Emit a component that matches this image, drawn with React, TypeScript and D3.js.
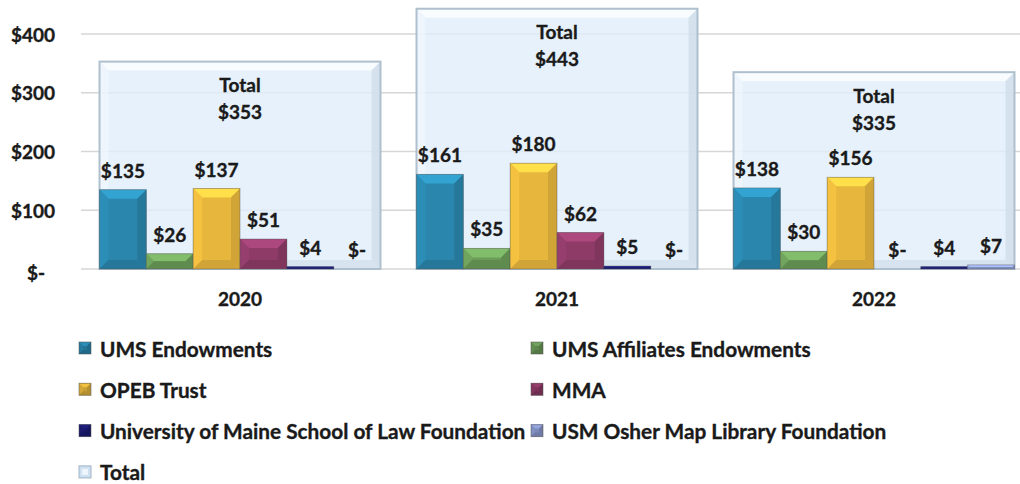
import React from "react";
import * as d3 from "d3";

const years = ["2020", "2021", "2022"];
const seriesNames = [
  "UMS Endowments",
  "UMS Affiliates Endowments",
  "OPEB Trust",
  "MMA",
  "University of Maine School of Law Foundation",
  "USM Osher Map Library Foundation",
];
const umsEndowments = [135, 161, 138];
const umsAffiliates = [26, 35, 30];
const opebTrust = [137, 180, 156];
const mma = [51, 62, 0];
const lawFoundation = [4, 5, 4];
const osherMap = [0, 0, 7];
const totals = [353, 443, 335];
const totalName = "Total";
const yTicks = [0, 100, 200, 300, 400];

const seriesValues = [umsEndowments, umsAffiliates, opebTrust, mma, lawFoundation, osherMap];
const seriesColors = ["#2a86ad", "#6b9b58", "#e7b73d", "#8e3b68", "#1d1d78", "#8e9ed4"];
const totalColor = "#e0edfa";

const W = 1020;
const H = 484;
const FONT = "Lato, 'Open Sans', 'DejaVu Sans', sans-serif";
const FS = 19;
const LFS = 20.8;
const TXT = "#1a1a1a";

const fmt = (v: number) => (v === 0 ? "$-" : `$${v}`);

function Bevel({ x, y, w, h, color, b, stroke }: any) {
  if (h <= 0 || w <= 0) return null;
  const bb = Math.max(0, Math.min(b, w / 2, h / 2));
  const c = d3.color(color)!;
  const top = c.brighter(0.55).formatHex();
  const left = c.brighter(0.15).formatHex();
  const right = c.darker(0.3).formatHex();
  const bottom = c.darker(0.3).formatHex();
  const x1 = x + w;
  const y1 = y + h;
  return (
    <g>
      <rect x={x} y={y} width={w} height={h} fill={color} />
      <polygon points={`${x},${y} ${x1},${y} ${x1 - bb},${y + bb} ${x + bb},${y + bb}`} fill={top} />
      <polygon points={`${x},${y} ${x + bb},${y + bb} ${x + bb},${y1 - bb} ${x},${y1}`} fill={left} />
      <polygon points={`${x1},${y} ${x1},${y1} ${x1 - bb},${y1 - bb} ${x1 - bb},${y + bb}`} fill={right} />
      <polygon points={`${x},${y1} ${x + bb},${y1 - bb} ${x1 - bb},${y1 - bb} ${x1},${y1}`} fill={bottom} />
      <rect x={x} y={y} width={w} height={h} fill="none" stroke={stroke ?? "rgba(80,80,80,0.4)"} strokeWidth={1} />
    </g>
  );
}

function TotalBox({ x, y, w, h }: any) {
  const b = 9;
  const x1 = x + w;
  const y1 = y + h;
  return (
    <g>
      <rect x={x} y={y} width={w} height={h} fill={totalColor} fillOpacity={0.8} />
      <polygon points={`${x},${y} ${x1},${y} ${x1 - b},${y + b} ${x + b},${y + b}`} fill="#ffffff" fillOpacity={0.75} />
      <polygon points={`${x},${y} ${x + b},${y + b} ${x + b},${y1 - b} ${x},${y1}`} fill="#f4f9fe" fillOpacity={0.6} />
      <polygon points={`${x1},${y} ${x1},${y1} ${x1 - b},${y1 - b} ${x1 - b},${y + b}`} fill="#cddbe8" fillOpacity={0.7} />
      <polygon points={`${x},${y1} ${x + b},${y1 - b} ${x1 - b},${y1 - b} ${x1},${y1}`} fill="#cddbe8" fillOpacity={0.6} />
      <rect x={x} y={y} width={w} height={h} fill="none" stroke="#aebfce" strokeWidth={2} />
    </g>
  );
}

export default function App() {
  const y = d3.scaleLinear().domain([0, 400]).range([269, 34]);
  const x = d3.scaleBand<string>().domain(years).range([81.5, 1032.5]).paddingInner(0.1136).paddingOuter(0.0568);
  const xs = d3.scaleBand<number>().domain(d3.range(seriesNames.length)).range([0, x.bandwidth()]);

  const legendItems = [
    ...seriesNames.map((n, i) => ({ name: n, color: seriesColors[i], total: false })),
    { name: totalName, color: totalColor, total: true },
  ];

  const txtProps = { fill: TXT, stroke: TXT, strokeWidth: 0.35, dominantBaseline: "central" as any };

  return (
    <svg
      width={W}
      height={H}
      style={{ position: "absolute", left: 0, top: 0, background: "#fff" }}
      fontFamily={FONT}
      fontWeight="bold"
    >
      {/* gridlines */}
      {yTicks.map((t) => (
        <line key={t} x1={81} x2={1033} y1={y(t)} y2={y(t)} stroke="#d6d6d6" strokeWidth={1.5} />
      ))}
      {/* y axis labels */}
      {yTicks.map((t) => (
        <text key={"yl" + t} x={t === 0 ? 45 : 55} y={y(t) + (t === 0 ? 3 : 0)} textAnchor="end" fontSize={FS} {...txtProps}>
          {fmt(t)}
        </text>
      ))}

      {/* total boxes */}
      {years.map((yr, i) => (
        <TotalBox key={"tb" + yr} x={x(yr)!} y={y(totals[i])} w={x.bandwidth()} h={y(0) - y(totals[i])} />
      ))}

      {/* series bars */}
      {years.map((yr, i) =>
        seriesValues.map((vals, s) => (
          <Bevel
            key={yr + s}
            x={x(yr)! + xs(s)!}
            y={y(vals[i])}
            w={xs.bandwidth()}
            h={y(0) - y(vals[i])}
            color={seriesColors[s]}
            b={9}
          />
        ))
      )}

      {/* value labels */}
      {years.map((yr, i) =>
        seriesValues.map((vals, s) => (
          <text
            key={"vl" + yr + s}
            x={x(yr)! + xs(s)! + xs.bandwidth() / 2}
            y={y(vals[i]) - 19.5}
            textAnchor="middle"
            fontSize={FS}
            {...txtProps}
          >
            {fmt(vals[i])}
          </text>
        ))
      )}

      {/* total labels */}
      {years.map((yr, i) => (
        <g key={"tl" + yr}>
          <text x={x(yr)! + x.bandwidth() / 2} y={y(totals[i]) + 23} textAnchor="middle" fontSize={FS} {...txtProps}>
            {totalName}
          </text>
          <text x={x(yr)! + x.bandwidth() / 2} y={y(totals[i]) + 50} textAnchor="middle" fontSize={FS} {...txtProps}>
            {fmt(totals[i])}
          </text>
        </g>
      ))}

      {/* x labels */}
      {years.map((yr) => (
        <text key={"xl" + yr} x={x(yr)! + x.bandwidth() / 2} y={298} textAnchor="middle" fontSize={FS} {...txtProps}>
          {yr}
        </text>
      ))}

      {/* legend */}
      {legendItems.map((it, i) => {
        const col = i % 2;
        const row = Math.floor(i / 2);
        const lx = col === 0 ? 79 : 531;
        const ly = 348 + row * 41.3;
        return (
          <g key={"lg" + i}>
            {it.total ? (
              <g>
                <rect x={lx} y={ly - 6} width={12} height={12} fill="#cfe0f0" stroke="#9fb3c6" strokeWidth={1} />
                <rect x={lx + 3} y={ly - 3} width={6} height={6} fill="#eef5fc" />
              </g>
            ) : (
              <Bevel
                x={lx}
                y={ly - 6}
                w={12}
                h={12}
                color={d3.color(it.color)!.darker(0.4).formatHex()}
                b={4}
                stroke="rgba(80,80,80,0.5)"
              />
            )}
            <text x={lx + 21} y={ly} fontSize={LFS} {...txtProps}>
              {it.name}
            </text>
          </g>
        );
      })}
    </svg>
  );
}
